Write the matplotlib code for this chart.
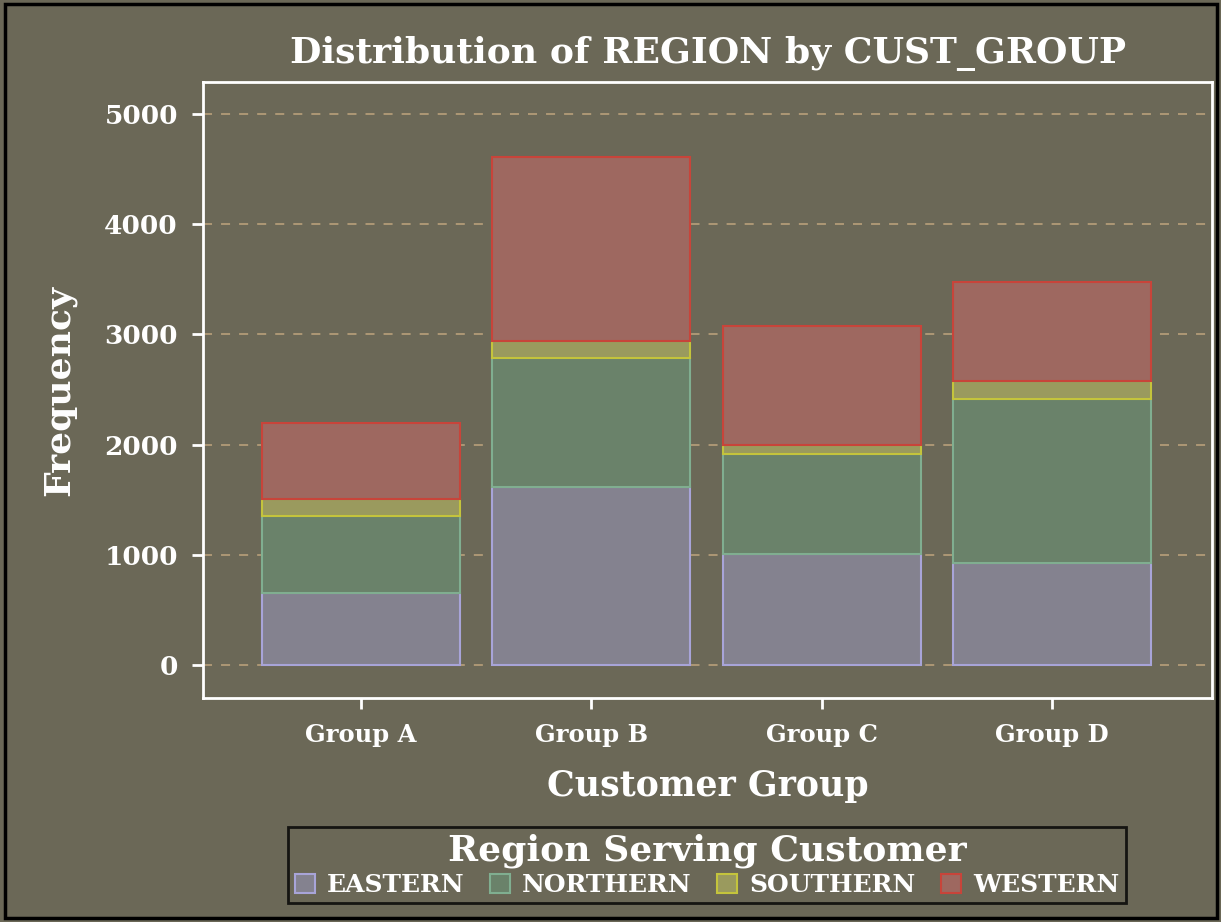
import numpy as np
import matplotlib.pyplot as plt
from matplotlib.patches import Rectangle

# 数据: 每组内各区域的频数 (堆叠)
groups = ['Group A', 'Group B', 'Group C', 'Group D']
regions = ['EASTERN', 'NORTHERN', 'SOUTHERN', 'WESTERN']
eastern = [651, 1615, 1005, 923]
northern = [704, 1171, 910, 1494]
southern = [151, 154, 81, 160]
western = [693, 1670, 1083, 896]
yticks = [0, 1000, 2000, 3000, 4000, 5000]

bg = '#6b6857'
fills = ['#84828f', '#6a826a', '#9a9a5e', '#9e6860']
edges = ['#a8a4d8', '#80ae90', '#c4c43c', '#c8443a']

plt.rcParams['font.family'] = ['DejaVu Serif']
plt.rcParams['font.weight'] = 'bold'

fig = plt.figure(figsize=(12.21, 9.22), dpi=100, facecolor=bg)
ax = fig.add_axes([203 / 1221, 1 - 698 / 922, 1009 / 1221, 616 / 922])
ax.set_facecolor(bg)

x = np.arange(len(groups))
bottom = np.zeros(len(groups))
handles = []
for name, vals, fc, ec in zip(regions, [eastern, northern, southern, western], fills, edges):
    b = ax.bar(x, vals, width=0.86, bottom=bottom, color=fc, edgecolor=ec,
               linewidth=1.5, label=name, zorder=3)
    handles.append(b)
    bottom += np.array(vals)

ax.set_xlim(-0.687, 3.696)
ax.set_ylim(-299, 5290)
ax.set_yticks(yticks)
ax.set_xticks(x)
ax.set_xticklabels(groups)
ax.yaxis.grid(True, color='#b29c78', linestyle=(0, (5, 5)), linewidth=1.3, zorder=1)
ax.set_axisbelow(True)

for s in ax.spines.values():
    s.set_color('white')
    s.set_linewidth(2)
ax.tick_params(colors='white', width=2, length=8)
ax.tick_params(axis='y', pad=10, labelsize=19)
ax.tick_params(axis='x', pad=10, labelsize=17.5)
for lab in ax.get_xticklabels() + ax.get_yticklabels():
    lab.set_fontweight('bold')

ax.set_title('Distribution of REGION by CUST_GROUP', color='white', fontsize=26,
             fontweight='bold', pad=14)
ax.set_ylabel('Frequency', color='white', fontsize=26, fontweight='bold', labelpad=20)
ax.set_xlabel('Customer Group', color='white', fontsize=25, fontweight='bold', labelpad=16)

leg = fig.legend(handles=handles, labels=regions, loc='center',
                 bbox_to_anchor=(707 / 1221, 1 - 865 / 922), ncol=4,
                 title='Region Serving Customer', fontsize=18, title_fontsize=26,
                 frameon=True, facecolor=bg, edgecolor='black', fancybox=False,
                 handlelength=0.8, handleheight=0.8, handletextpad=0.5,
                 columnspacing=1.0, borderpad=0.25, labelspacing=0.2)
leg.get_frame().set_linewidth(2)
for t in leg.get_texts():
    t.set_color('white')
    t.set_fontweight('bold')
leg.get_title().set_color('white')
leg.get_title().set_fontweight('bold')

# 外边框
fig.patches.append(Rectangle((5 / 1221, 4 / 922), 1212 / 1221, 914 / 922,
                             transform=fig.transFigure, fill=False,
                             edgecolor='black', linewidth=2.5))

fig.savefig('out.png', dpi=100, facecolor=bg)
